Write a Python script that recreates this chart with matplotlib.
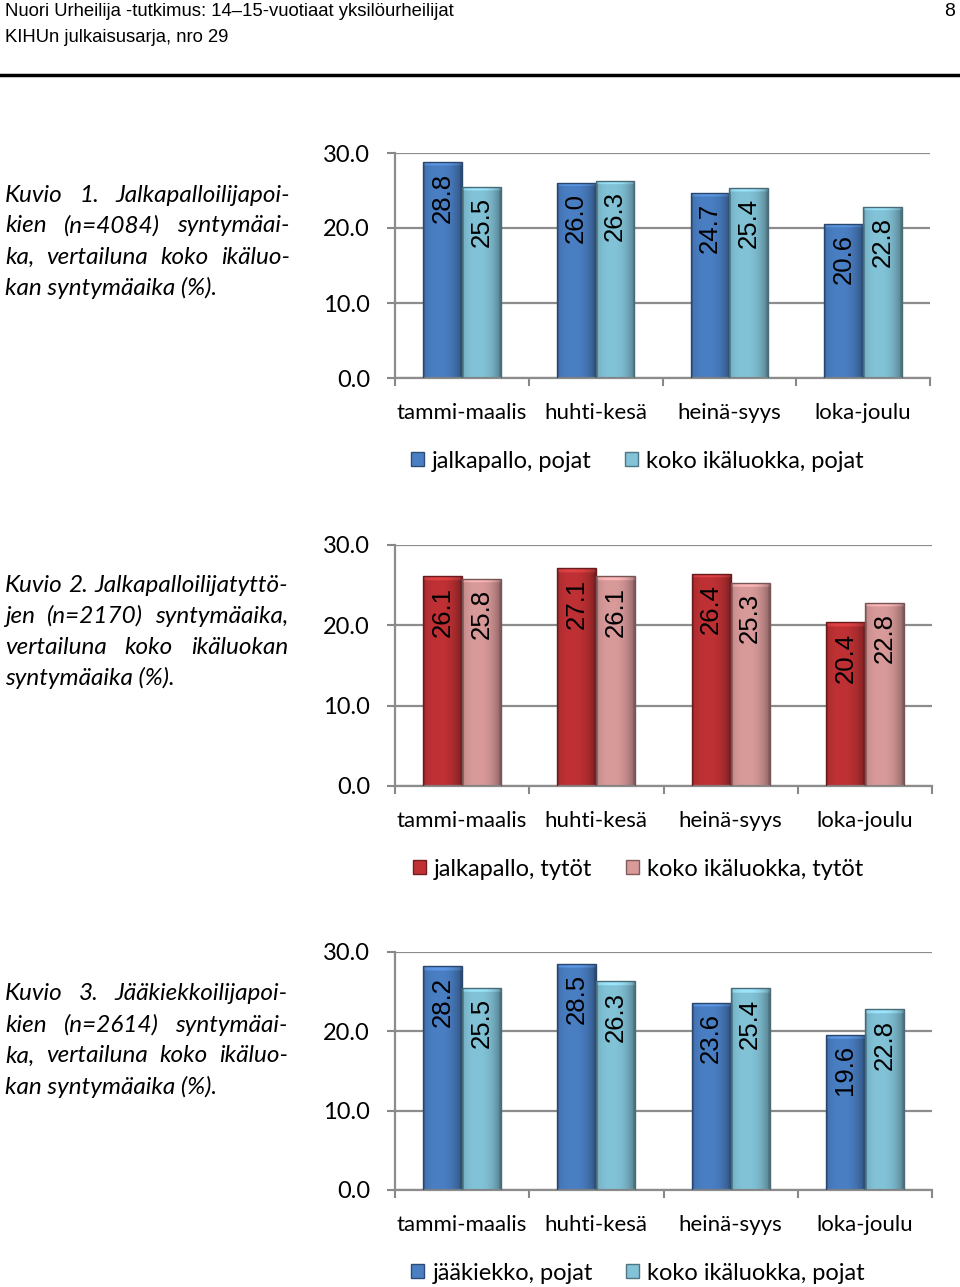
import matplotlib
matplotlib.use("Agg")
import matplotlib.pyplot as plt
import matplotlib.font_manager as fm
from matplotlib.patches import Patch
import numpy as np

# data ---------------------------------------------------
categories = ["tammi-maalis", "huhti-kesä", "heinä-syys", "loka-joulu"]
yticks = [0.0, 10.0, 20.0, 30.0]

boys_football = [28.8, 26.0, 24.7, 20.6]
boys_all = [25.5, 26.3, 25.4, 22.8]
girls_football = [26.1, 27.1, 26.4, 20.4]
girls_all = [25.8, 26.1, 25.3, 22.8]
boys_hockey = [28.2, 28.5, 23.6, 19.6]
boys_all_2 = [25.5, 26.3, 25.4, 22.8]

legend1 = ["jalkapallo, pojat", "koko ikäluokka, pojat"]
legend2 = ["jalkapallo, tytöt", "koko ikäluokka, tytöt"]
legend3 = ["jääkiekko, pojat", "koko ikäluokka, pojat"]

caption1 = ["Kuvio 1. Jalkapalloilijapoi-", "kien (n=4084) syntymäai-",
            "ka, vertailuna koko ikäluo-", "kan syntymäaika (%)."]
caption2 = ["Kuvio 2. Jalkapalloilijatyttö-", "jen (n=2170) syntymäaika,",
            "vertailuna koko ikäluokan", "syntymäaika (%)."]
caption3 = ["Kuvio 3. Jääkiekkoilijapoi-", "kien (n=2614) syntymäai-",
            "ka, vertailuna koko ikäluo-", "kan syntymäaika (%)."]

header1 = "Nuori Urheilija -tutkimus: 14–15-vuotiaat yksilöurheilijat"
header2 = "KIHUn julkaisusarja, nro 29"
page_no = "8"

blue = ("#4a7fc4", "#82c3d8")
red = ("#bf3134", "#d99a9a")

names = {f.name for f in fm.fontManager.ttflist}
narrow = "Liberation Sans Narrow" if "Liberation Sans Narrow" in names else "Liberation Sans"
FONT = "Lato"

W, H = 960, 1287
fig = plt.figure(figsize=(W / 100, H / 100), dpi=100)
renderer = fig.canvas.get_renderer()


def px_axes(left, right, y0, y30):
    return fig.add_axes([left / W, 1 - y0 / H, (right - left) / W, (y0 - y30) / H])


def shade_bar(ax, bar, color):
    # fake the bevelled excel look with a gradient image clipped to the bar
    x, y = bar.get_x(), bar.get_y()
    w, h = bar.get_width(), bar.get_height()
    t = np.linspace(0, 1, 64)
    prof = 1.0 - 0.35 * (np.abs(t - 0.4) / 0.6) ** 2.5
    prof[:3] = 0.72
    prof[-3:] = 0.6
    rgb = np.array(matplotlib.colors.to_rgb(color))
    rows = 300
    img = np.clip(rgb[None, None, :] * prof[None, :, None] * np.ones((rows, 1, 1)), 0, 1)
    top = max(1, int(rows * 0.6 / h))
    img[:top] = np.clip(img[:top] * 1.12 + 0.04, 0, 1)
    im = ax.imshow(img, extent=(x, x + w, y, y + h), aspect="auto", zorder=2,
                   interpolation="bilinear")
    im.set_clip_path(bar)


def draw_chart(left, right, y0, y30, s1, s2, colors, labels, legend_xy):
    ax = px_axes(left, right, y0, y30)
    xs = np.arange(len(categories))
    bw = 0.29
    for vals, off, col in ((s1, -bw / 2, colors[0]), (s2, bw / 2, colors[1])):
        edge = tuple(np.array(matplotlib.colors.to_rgb(col)) * 0.55)
        bars = ax.bar(xs + off, vals, width=bw, color="none", zorder=3,
                      edgecolor=edge, linewidth=1.0)
        for b, v in zip(bars, vals):
            shade_bar(ax, b, col)
            ax.annotate(f"{v:.1f}", xy=(b.get_x() + b.get_width() / 2, v),
                        xytext=(0, -7.5), textcoords="offset points",
                        ha="center", va="top", rotation=90, fontsize=18.5,
                        family="Liberation Sans", color="black", zorder=5)
    ax.set_xlim(-0.5, 3.5)
    ax.set_ylim(0, 30)
    ax.set_yticks(yticks)
    ax.set_yticklabels([f"{v:.1f}" for v in yticks], fontsize=17, family=FONT)
    ax.set_xticks(xs)
    ax.set_xticklabels(categories, fontsize=16, family=FONT)
    ax.set_xticks(np.arange(-0.5, 4, 1), minor=True)
    ax.tick_params(axis="x", which="major", length=0, pad=18)
    ax.tick_params(axis="x", which="minor", length=6, width=1.5, color="#888888")
    ax.tick_params(axis="y", length=6, width=1.5, color="#888888", pad=12)
    ax.grid(axis="y", color="#8c8c8c", linewidth=1.6, zorder=0)
    ax.set_axisbelow(True)
    for s in ("top", "right"):
        ax.spines[s].set_visible(False)
    for s in ("left", "bottom"):
        ax.spines[s].set_color("#8c8c8c")
        ax.spines[s].set_linewidth(1.6)
    handles = [Patch(facecolor=c, edgecolor=tuple(np.array(matplotlib.colors.to_rgb(c)) * 0.6))
               for c in colors]
    fig.legend(handles, labels, loc="center", ncol=2, frameon=False,
               bbox_to_anchor=(legend_xy[0] / W, 1 - legend_xy[1] / H),
               prop={"family": FONT, "size": 17}, handlelength=0.55, handleheight=0.55,
               handletextpad=0.35, columnspacing=1.4)
    return ax


def caption(lines, x0, x1, ytop, dy):
    for i, line in enumerate(lines):
        y = 1 - (ytop + i * dy) / H
        words = line.split(" ")
        kw = dict(fontsize=17.5, family=FONT, style="italic", va="center", ha="left")
        if i == len(lines) - 1:
            fig.text(x0 / W, y, line, **kw)
            continue
        texts = [fig.text(0, y, w_, **kw) for w_ in words]
        widths = [t.get_window_extent(renderer).width for t in texts]
        gap = (x1 - x0 - sum(widths)) / (len(words) - 1)
        x = x0
        for t, wd in zip(texts, widths):
            t.set_x(x / W)
            x += wd + gap


draw_chart(395, 930, 378, 153, boys_football, boys_all, blue, legend1, (637, 461))
draw_chart(395, 932, 786, 545, girls_football, girls_all, red, legend2, (638, 869))
draw_chart(395, 932, 1190, 952, boys_hockey, boys_all_2, blue, legend3, (638, 1273))

caption(caption1, 5, 290, 195, 31)
caption(caption2, 5, 288, 585, 31)
caption(caption3, 5, 288, 994, 31)

# header
fig.text(5 / W, 1 - 12 / H, header1, fontsize=13.3, family=narrow, va="center")
fig.text(5 / W, 1 - 37 / H, header2, fontsize=13.3, family=narrow, va="center")
fig.text(955 / W, 1 - 12 / H, page_no, fontsize=14, family=narrow, va="center", ha="right")
fig.add_artist(plt.Line2D([0, 1], [1 - 75 / H, 1 - 75 / H], color="black", linewidth=2.5))

fig.savefig("out.png", dpi=100, facecolor="white")
